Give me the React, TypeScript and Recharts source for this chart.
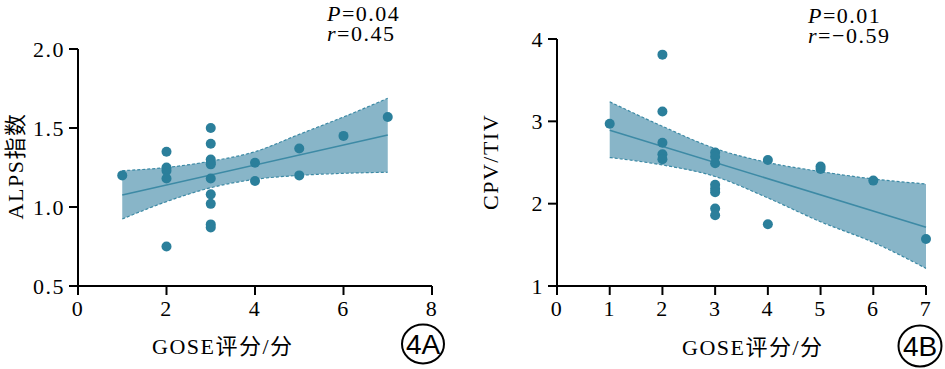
import React from 'react';
import { ComposedChart, Area, Line, Scatter, XAxis, YAxis } from 'recharts';

// ---------- Panel A: ALPS index vs GOSE ----------
const alpsX = [1, 2, 2, 2, 2, 2, 3, 3, 3, 3, 3, 3, 3, 3, 3, 3, 4, 4, 5, 5, 6, 7];
const alpsY = [1.20, 1.35, 1.25, 1.23, 1.18, 0.75, 1.50, 1.40, 1.30, 1.28, 1.27, 1.18, 1.08, 1.02, 0.89, 0.87, 1.28, 1.165, 1.37, 1.20, 1.45, 1.57];
const bandX = [1, 2, 3, 4, 5, 6, 7];
const alpsLow = [0.924, 1.034, 1.122, 1.175, 1.20, 1.213, 1.22];
const alpsHigh = [1.23, 1.25, 1.29, 1.35, 1.46, 1.57, 1.688];
const fitX = [1, 7];
const alpsFit = [1.076, 1.456];
const alpsXTicks = [0, 2, 4, 6, 8];
const alpsYTicks = [0.5, 1.0, 1.5, 2.0];

// ---------- Panel B: CPV/TIV vs GOSE ----------
const cpvX = [1, 2, 2, 2, 2, 2, 3, 3, 3, 3, 3, 3, 3, 3, 4, 4, 5, 5, 6, 7];
const cpvY = [2.97, 3.81, 3.12, 2.74, 2.60, 2.54, 2.62, 2.57, 2.49, 2.23, 2.18, 2.14, 1.94, 1.86, 2.53, 1.75, 2.45, 2.42, 2.28, 1.57];
const cpvLow = [2.56, 2.47, 2.33, 2.07, 1.78, 1.53, 1.214];
const cpvHigh = [3.237, 2.94, 2.67, 2.50, 2.39, 2.30, 2.24];
const cpvFit = [2.893, 1.713];
const cpvXTicks = [0, 1, 2, 3, 4, 5, 6, 7];
const cpvYTicks = [1, 2, 3, 4];

const DOT = '#2b7f9b';
const FILL = '#88b5c8';
const LINE = '#3d8aa5';
const SERIF = '"Liberation Serif", "Times New Roman", "Noto Sans CJK SC", serif';
const FS = 22;
const LS = 1.5;

const makePts = (xs: number[], ys: number[]) => xs.map((x, i) => ({ x, y: ys[i] }));
const makeBand = (lo: number[], hi: number[]) => bandX.map((x, i) => ({ x, band: [lo[i], hi[i]], lo: lo[i], hi: hi[i] }));
const makeFit = (ys: number[]) => fitX.map((x, i) => ({ x, fit: ys[i] }));

const Dot = (props: any) => {
  const { cx, cy } = props;
  if (cx == null || cy == null) return null;
  return <circle cx={cx} cy={cy} r={5} fill={DOT} />;
};

const tickStyle = { fill: '#000', fontSize: FS, fontFamily: SERIF, letterSpacing: LS };

type PanelProps = {
  pts: { x: number; y: number }[];
  band: any[];
  fit: any[];
  xDomain: [number, number];
  yDomain: [number, number];
  xTicks: number[];
  yTicks: number[];
  yFmt: (v: number) => string;
  margin: { top: number; right: number; bottom: number; left: number };
  width: number;
};

const Panel = ({ pts, band, fit, xDomain, yDomain, xTicks, yTicks, yFmt, margin, width }: PanelProps) => (
  <ComposedChart width={width} height={369} data={band} margin={margin}>
    <XAxis
      type="number"
      dataKey="x"
      domain={xDomain}
      ticks={xTicks}
      axisLine={{ stroke: '#000', strokeWidth: 2 }}
      tickLine={{ stroke: '#000', strokeWidth: 2 }}
      tickSize={9}
      tickMargin={5}
      tick={tickStyle}
      height={30}
      interval={0}
    />
    <YAxis
      type="number"
      domain={yDomain}
      ticks={yTicks}
      tickFormatter={yFmt}
      axisLine={{ stroke: '#000', strokeWidth: 2 }}
      tickLine={{ stroke: '#000', strokeWidth: 2 }}
      tickSize={9}
      tickMargin={4}
      tick={tickStyle}
      width={60}
      interval={0}
    />
    <Area
      type="monotone"
      dataKey="band"
      stroke="none"
      fill={FILL}
      fillOpacity={1}
      isAnimationActive={false}
      activeDot={false}
    />
    <Line type="monotone" dataKey="hi" stroke={LINE} strokeWidth={1.2} strokeDasharray="3 2" dot={false} isAnimationActive={false} activeDot={false} />
    <Line type="monotone" dataKey="lo" stroke={LINE} strokeWidth={1.2} strokeDasharray="3 2" dot={false} isAnimationActive={false} activeDot={false} />
    <Line data={fit} type="linear" dataKey="fit" stroke={LINE} strokeWidth={1.6} dot={false} isAnimationActive={false} activeDot={false} />
    <Scatter data={pts} dataKey="y" shape={<Dot />} isAnimationActive={false} />
  </ComposedChart>
);

const Badge = ({ cx, cy, rx, ry, text }: { cx: number; cy: number; rx: number; ry: number; text: string }) => (
  <g>
    <ellipse cx={cx} cy={cy} rx={rx} ry={ry} fill="#fff" stroke="#000" strokeWidth={2} />
    <text x={cx} y={cy + 10} textAnchor="middle" fontFamily='"Liberation Sans", Arial, sans-serif' fontSize={28} fill="#000">
      {text}
    </text>
  </g>
);

export default function App() {
  return (
    <div style={{ position: 'absolute', left: 0, top: 0, width: 945, height: 369, background: '#fff' }}>
      <div style={{ position: 'absolute', left: 0, top: 0 }}>
        <Panel
          width={470}
          pts={makePts(alpsX, alpsY)}
          band={makeBand(alpsLow, alpsHigh)}
          fit={makeFit(alpsFit)}
          xDomain={[0, 8]}
          yDomain={[0.5, 2.0]}
          xTicks={alpsXTicks}
          yTicks={alpsYTicks}
          yFmt={(v) => v.toFixed(1)}
          margin={{ top: 49, right: 38, bottom: 53, left: 18 }}
        />
      </div>
      <div style={{ position: 'absolute', left: 470, top: 0 }}>
        <Panel
          width={475}
          pts={makePts(cpvX, cpvY)}
          band={makeBand(cpvLow, cpvHigh)}
          fit={makeFit(cpvFit)}
          xDomain={[0, 7]}
          yDomain={[1, 4]}
          xTicks={cpvXTicks}
          yTicks={cpvYTicks}
          yFmt={(v) => String(v)}
          margin={{ top: 39, right: 19, bottom: 53, left: 27 }}
        />
      </div>
      <svg width={945} height={369} style={{ position: 'absolute', left: 0, top: 0, pointerEvents: 'none' }}>
        <g fontFamily={SERIF} fontSize={FS} fill="#000" letterSpacing={LS}>
          <text x={327} y={21}><tspan fontStyle="italic">P</tspan>=0.04</text>
          <text x={327} y={41}><tspan fontStyle="italic">r</tspan>=0.45</text>
          <text x={808} y={23}><tspan fontStyle="italic">P</tspan>=0.01</text>
          <text x={808} y={43}><tspan fontStyle="italic">r</tspan>=−0.59</text>
          <text x={23} y={166} transform="rotate(-90 23 166)" textAnchor="middle">ALPS指数</text>
          <text x={498} y={162} transform="rotate(-90 498 162)" textAnchor="middle">CPV/TIV</text>
          <text x={152} y={354}>GOSE评分/分</text>
          <text x={682} y={355}>GOSE评分/分</text>
        </g>
        <Badge cx={423} cy={344} rx={21} ry={19.5} text="4A" />
        <Badge cx={920} cy={346} rx={21.5} ry={20.5} text="4B" />
      </svg>
    </div>
  );
}
